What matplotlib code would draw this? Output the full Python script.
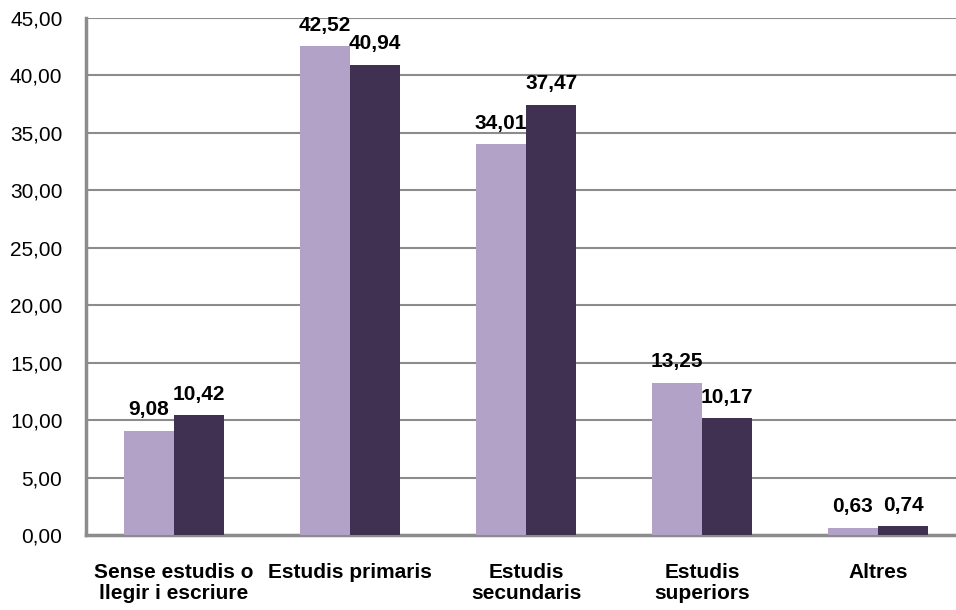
import numpy as np
import matplotlib.pyplot as plt
from matplotlib.ticker import FuncFormatter

plt.rcParams['font.family'] = ['Liberation Sans', 'DejaVu Sans']

categories = ["Sense estudis o\nllegir i escriure", "Estudis primaris",
              "Estudis\nsecundaris", "Estudis\nsuperiors", "Altres"]
serie_a = [9.08, 42.52, 34.01, 13.25, 0.63]
serie_b = [10.42, 40.94, 37.47, 10.17, 0.74]

x = np.arange(len(categories))
width = 0.285

fig = plt.figure(figsize=(9.56, 6.10), dpi=100)
ax = fig.add_axes([86 / 956, 1 - 535 / 610, 880 / 956, (535 - 18) / 610])

b1 = ax.bar(x - width / 2, serie_a, width, color="#B3A2C7", zorder=3)
b2 = ax.bar(x + width / 2, serie_b, width, color="#403152", zorder=3)

# etichette sopra le barre
for bars in (b1, b2):
    for r in bars:
        v = r.get_height()
        ax.annotate(f"{v:.2f}".replace(".", ","),
                    (r.get_x() + r.get_width() / 2, v),
                    xytext=(0, 11), textcoords="offset points",
                    ha="center", va="baseline", fontsize=15, fontweight="bold")

ax.set_xlim(-0.5, len(categories) - 0.5)
ax.set_ylim(0, 45)
ax.set_yticks(np.arange(0, 46, 5))
ax.yaxis.set_major_formatter(FuncFormatter(lambda v, p: f"{v:.2f}".replace(".", ",")))
ax.set_xticks(x)
ax.set_xticklabels(categories, fontsize=15, fontweight="bold", linespacing=1.15)
ax.tick_params(axis="x", length=0, pad=20)
ax.tick_params(axis="y", length=0, pad=17, labelsize=15)

ax.grid(axis="y", color="#8C8C8C", linewidth=1.5, zorder=0)
for s in ("top", "right"):
    ax.spines[s].set_visible(False)
ax.spines["left"].set_color("#8C8C8C")
ax.spines["left"].set_linewidth(2.5)
ax.spines["bottom"].set_color("#8C8C8C")
ax.spines["bottom"].set_linewidth(2.5)

fig.savefig("out.png", dpi=100)
